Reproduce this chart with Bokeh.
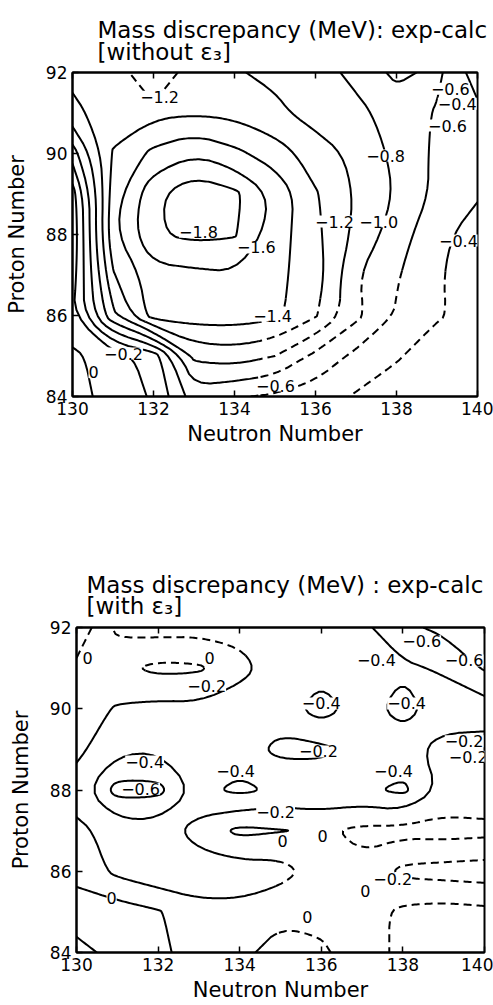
import numpy as np
from bokeh.embed import file_html
from bokeh.layouts import column
from bokeh.models import (ColumnDataSource, CustomJSTickFormatter, FixedTicker,
                          LabelSet, LinearAxis, Range1d)
from bokeh.core.properties import value
from bokeh.plotting import figure
from bokeh.resources import INLINE

FONT = "DejaVu Sans"

neutron_number = list(range(130, 141))
proton_number = list(range(84, 93))
x_ticks = [130, 132, 134, 136, 138, 140]
y_ticks = [84, 86, 88, 90, 92]

# Mass discrepancy exp - calc (MeV); rows: Z = 84..92, columns: N = 130..140
discrepancy_without_eps3 = [
    [0.10, -0.10, -0.22, -0.70, -0.62, -0.57, -0.50, -0.38, -0.30, -0.25, -0.20],
    [0.05, -0.12, -0.28, -1.05, -1.10, -1.00, -0.75, -0.55, -0.42, -0.30, -0.25],
    [-0.18, -0.95, -1.50, -1.50, -1.50, -1.45, -1.22, -0.85, -0.58, -0.42, -0.33],
    [-0.10, -1.18, -1.52, -1.55, -1.58, -1.45, -1.30, -0.82, -0.62, -0.42, -0.30],
    [-0.05, -1.35, -1.78, -1.85, -1.82, -1.50, -1.25, -0.95, -0.70, -0.45, -0.32],
    [-0.10, -1.30, -1.75, -1.95, -1.85, -1.55, -1.22, -0.98, -0.78, -0.55, -0.42],
    [-0.50, -1.22, -1.45, -1.58, -1.45, -1.30, -1.10, -0.95, -0.75, -0.56, -0.45],
    [-0.95, -1.10, -1.15, -1.18, -1.15, -1.05, -0.92, -0.85, -0.72, -0.58, -0.45],
    [-1.05, -1.10, -1.35, -1.10, -1.02, -0.95, -0.88, -0.75, -0.55, -0.65, -0.30],
]
discrepancy_with_eps3 = [
    [-0.05, 0.05, 0.05, -0.10, -0.05, 0.08, 0.03, -0.10, 0.05, 0.05, 0.05],
    [0.08, 0.10, 0.02, -0.15, -0.15, -0.05, -0.05, -0.10, 0.05, 0.08, 0.05],
    [-0.05, -0.25, -0.35, -0.30, -0.30, -0.28, -0.10, -0.05, -0.25, -0.28, -0.30],
    [-0.15, -0.28, -0.30, -0.12, 0.05, 0.01, -0.03, 0.05, 0.06, 0.08, 0.06],
    [-0.30, -0.68, -0.66, -0.35, -0.45, -0.36, -0.36, -0.36, -0.45, -0.15, -0.15],
    [-0.15, -0.35, -0.38, -0.30, -0.28, -0.15, -0.15, -0.28, -0.25, -0.15, -0.12],
    [-0.10, -0.22, -0.26, -0.25, -0.28, -0.30, -0.50, -0.30, -0.50, -0.28, -0.30],
    [-0.05, -0.05, 0.05, 0.03, -0.15, -0.28, -0.32, -0.33, -0.36, -0.43, -0.62],
    [0.15, -0.25, -0.28, -0.27, -0.25, -0.30, -0.32, -0.35, -0.55, -0.65, -0.70],
]
levels_without_eps3 = [-1.8, -1.6, -1.4, -1.2, -1.0, -0.8, -0.6, -0.4, -0.2, 0.0]
levels_with_eps3 = [-0.6, -0.4, -0.2, 0.0]

# Boxes (N_min, N_max, Z_min, Z_max) where the contours are extrapolated (dashed)
extrapolated_without_eps3 = [(134.6, 140.0, 84.0, 86.4), (136.8, 140.0, 84.0, 87.1),
                             (131.0, 133.3, 91.55, 92.0)]
extrapolated_with_eps3 = [(130.0, 133.4, 91.0, 92.0), (133.4, 134.6, 91.3, 92.0),
                          (134.9, 140.0, 84.0, 86.9), (136.2, 140.0, 86.9, 87.35)]

# Contour value labels
label_n_without = [132.15, 139.33, 139.5, 139.26, 137.73, 133.11, 134.54, 136.47, 137.56,
                   139.53, 134.94, 131.26, 130.52, 135.01]
label_z_without = [91.4, 91.6, 91.23, 90.69, 89.95, 88.07, 87.68, 88.32, 88.32,
                   87.85, 86.0, 85.06, 84.6, 84.27]
label_text_without = ["−1.2", "−0.6", "−0.4", "−0.6", "−0.8", "−1.8", "−1.6", "−1.2", "−1.0",
                      "−0.4", "−1.4", "−0.2", "0", "−0.6"]

label_n_with = [130.27, 133.26, 133.19, 138.46, 137.35, 139.5, 136.0, 138.09, 135.93,
                131.67, 131.57, 133.9, 137.77, 134.88, 135.05, 136.03, 137.75, 137.08,
                135.66, 130.86, 139.5, 139.6]
label_z_with = [91.24, 91.26, 90.57, 91.66, 91.19, 91.19, 90.13, 90.13, 88.95,
                88.7, 88.03, 88.48, 88.48, 87.47, 86.75, 86.88, 85.82, 85.52,
                84.88, 85.33, 89.2, 88.82]
label_text_with = ["0", "0", "−0.2", "−0.6", "−0.4", "−0.6", "−0.4", "−0.4", "−0.2",
                   "−0.4", "−0.6", "−0.4", "−0.4", "−0.2", "0", "0", "−0.2", "0",
                   "0", "0", "−0.2", "−0.2"]

heading_without = ["Mass discrepancy (MeV): exp-calc", "[without ε₃]"]
heading_with = ["Mass discrepancy (MeV) : exp-calc", "[with ε₃]"]


def level_lines(grid, levels):
    """Return contour polylines [(xs, ys), ...] of the grid at the given levels."""
    z = np.array(grid, dtype=float)
    x = np.array(neutron_number, dtype=float)
    y = np.array(proton_number, dtype=float)
    raw = []
    try:
        from bokeh.plotting.contour import contour_data
        data = contour_data(x, y, z, levels, want_fill=False, want_line=True)
        for xs, ys in zip(data.line_data.xs, data.line_data.ys):
            raw.append((np.asarray(xs, dtype=float), np.asarray(ys, dtype=float)))
    except Exception:
        import contourpy
        gen = contourpy.contour_generator(x, y, z, line_type="Separate")
        for lev in levels:
            for seg in gen.lines(lev):
                raw.append((seg[:, 0], seg[:, 1]))
    paths = []
    for xs, ys in raw:
        cx, cy = [], []
        for a, b in zip(xs, ys):
            if np.isnan(a) or np.isnan(b):
                if len(cx) > 1:
                    paths.append((cx, cy))
                cx, cy = [], []
            else:
                cx.append(float(a))
                cy.append(float(b))
        if len(cx) > 1:
            paths.append((cx, cy))
    return paths


def rounded(xs, ys, rounds=2):
    """Corner-cutting so the drawn contour reads as a smooth curve."""
    pts = list(zip(xs, ys))
    closed = len(pts) > 3 and abs(pts[0][0] - pts[-1][0]) < 1e-9 and abs(pts[0][1] - pts[-1][1]) < 1e-9
    for _ in range(rounds):
        if len(pts) < 3:
            break
        new = []
        if closed:
            core = pts[:-1]
            n = len(core)
            for i in range(n):
                (ax, ay), (bx, by) = core[i], core[(i + 1) % n]
                new.append((0.75 * ax + 0.25 * bx, 0.75 * ay + 0.25 * by))
                new.append((0.25 * ax + 0.75 * bx, 0.25 * ay + 0.75 * by))
            new.append(new[0])
        else:
            new.append(pts[0])
            for i in range(len(pts) - 1):
                (ax, ay), (bx, by) = pts[i], pts[i + 1]
                new.append((0.75 * ax + 0.25 * bx, 0.75 * ay + 0.25 * by))
                new.append((0.25 * ax + 0.75 * bx, 0.25 * ay + 0.75 * by))
            new.append(pts[-1])
        pts = new
    return [p[0] for p in pts], [p[1] for p in pts]


def in_boxes(px, py, boxes):
    return any(x0 <= px <= x1 and y0 <= py <= y1 for x0, x1, y0, y1 in boxes)


def split_by_style(paths, boxes, step=0.05):
    """Split each polyline into solid and dashed runs."""
    solid = {"xs": [], "ys": []}
    dashed = {"xs": [], "ys": []}
    for xs, ys in paths:
        xs, ys = rounded(xs, ys)
        fx, fy = [xs[0]], [ys[0]]
        for i in range(1, len(xs)):
            x0, y0, x1, y1 = xs[i - 1], ys[i - 1], xs[i], ys[i]
            n = max(1, int(np.ceil(np.hypot(x1 - x0, y1 - y0) / step)))
            for k in range(1, n + 1):
                t = k / n
                fx.append(x0 + (x1 - x0) * t)
                fy.append(y0 + (y1 - y0) * t)
        run_x, run_y = [fx[0]], [fy[0]]
        state = None
        for i in range(1, len(fx)):
            d = in_boxes((fx[i - 1] + fx[i]) / 2, (fy[i - 1] + fy[i]) / 2, boxes)
            if state is None:
                state = d
            if d != state:
                target = dashed if state else solid
                if len(run_x) > 1:
                    target["xs"].append(run_x)
                    target["ys"].append(run_y)
                run_x, run_y = [fx[i - 1]], [fy[i - 1]]
                state = d
            run_x.append(fx[i])
            run_y.append(fy[i])
        target = dashed if state else solid
        if len(run_x) > 1:
            target["xs"].append(run_x)
            target["ys"].append(run_y)
    return solid, dashed


def heading_strip(lines, height, left, baselines):
    """Frameless strip whose ranges make one data unit one pixel (y downwards)."""
    h = figure(width=493, height=height, title=None,
               x_range=Range1d(0, 493), y_range=Range1d(height, 0),
               output_backend="svg", toolbar_location=None,
               x_axis_type=None, y_axis_type=None,
               min_border_left=0, min_border_right=0,
               min_border_top=0, min_border_bottom=0)
    h.outline_line_color = None
    h.xgrid.visible = False
    h.ygrid.visible = False
    h.text(x=[left] * len(lines), y=baselines, text=lines,
           text_font=value(FONT), text_font_size=value("23px"),
           text_color="black", text_align="left", text_baseline="alphabetic")
    return h


def make_panel(grid, levels, boxes, lab_n, lab_z, lab_text, height, borders):
    left, right, top, bottom = borders
    p = figure(width=493, height=height, title=None,
               x_range=Range1d(130, 140), y_range=Range1d(84, 92),
               output_backend="svg", toolbar_location=None,
               min_border_left=left, min_border_right=right,
               min_border_top=top, min_border_bottom=bottom)
    p.xgrid.visible = False
    p.ygrid.visible = False
    p.outline_line_color = "black"
    p.outline_line_width = 2
    p.outline_line_alpha = 1.0
    p.background_fill_color = "white"
    p.border_fill_color = "white"

    p.xaxis.ticker = FixedTicker(ticks=x_ticks)
    p.yaxis.ticker = FixedTicker(ticks=y_ticks)
    p.xaxis.axis_label = "Neutron Number"
    p.yaxis.axis_label = "Proton Number"
    for ax in (p.xaxis[0], p.yaxis[0]):
        ax.major_tick_in = 6
        ax.major_tick_out = 0
        ax.major_tick_line_width = 1.5
        ax.minor_tick_line_color = None
        ax.axis_line_width = 2
        ax.major_label_text_font = FONT
        ax.major_label_text_font_size = "17px"
        ax.major_label_text_color = "black"
        ax.major_label_standoff = 5
        ax.axis_label_text_font = FONT
        ax.axis_label_text_font_size = "21px"
        ax.axis_label_text_font_style = "normal"
        ax.axis_label_text_color = "black"
    p.xaxis.axis_label_standoff = 4
    p.yaxis.axis_label_standoff = 14

    # inward ticks along the top edge, no labels
    top_axis = LinearAxis(ticker=FixedTicker(ticks=x_ticks),
                          formatter=CustomJSTickFormatter(code="return ''"),
                          major_label_text_font_size="0px",
                          major_tick_in=6, major_tick_out=0, major_tick_line_width=1.5,
                          minor_tick_line_color=None, axis_line_width=2,
                          major_label_standoff=0)
    p.add_layout(top_axis, "above")

    solid, dashed = split_by_style(level_lines(grid, levels), boxes)
    p.multi_line(xs="xs", ys="ys", source=ColumnDataSource(solid),
                 line_color="black", line_width=2)
    p.multi_line(xs="xs", ys="ys", source=ColumnDataSource(dashed),
                 line_color="black", line_width=2, line_dash="8 5")

    src = ColumnDataSource({"n": lab_n, "z": lab_z, "text": lab_text})
    p.add_layout(LabelSet(x="n", y="z", text="text", source=src,
                          text_align="center", text_baseline="middle",
                          text_font=value(FONT), text_font_size=value("16px"),
                          text_color="black", background_fill_color="white"))
    return p


top_heading = heading_strip(heading_without, 64, 97, [29, 51])
top_panel = make_panel(discrepancy_without_eps3, levels_without_eps3, extrapolated_without_eps3,
                       label_n_without, label_z_without, label_text_without,
                       436, (72, 16, 8, 104))
bottom_heading = heading_strip(heading_with, 119, 86, [84, 105])
bottom_panel = make_panel(discrepancy_with_eps3, levels_with_eps3, extrapolated_with_eps3,
                          label_n_with, label_z_with, label_text_with,
                          386, (76, 9, 8, 53))

# each panel sits in its own column so the two frames keep their own borders
layout = column(top_heading, column(top_panel), bottom_heading, column(bottom_panel))
open("out.html", "w").write(file_html(layout, INLINE))
